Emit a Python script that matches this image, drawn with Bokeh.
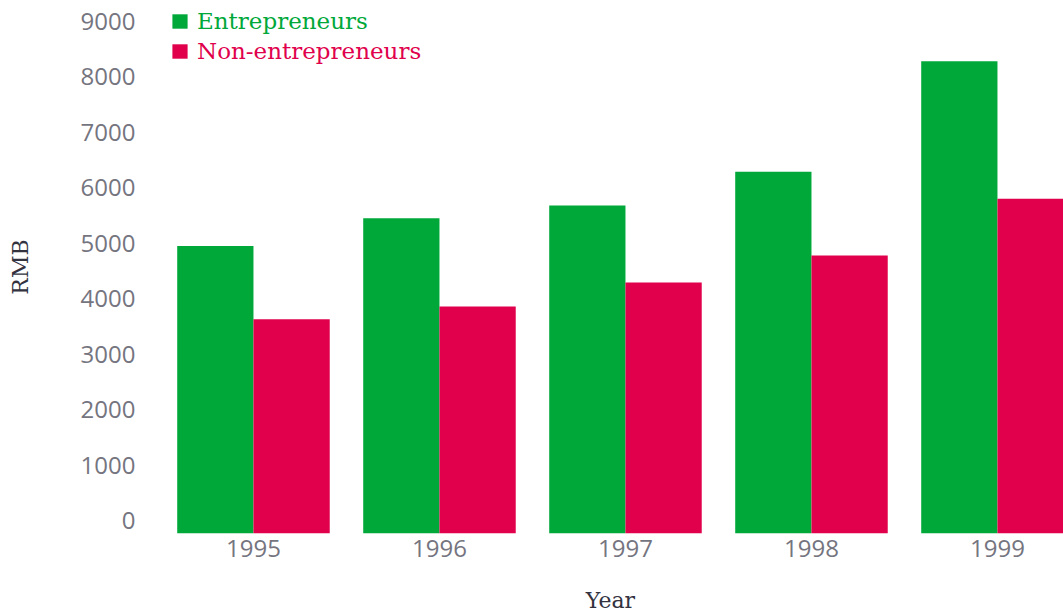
from bokeh.plotting import figure
from bokeh.models import Range1d, Legend, LegendItem, FixedTicker, ColumnDataSource
from bokeh.transform import dodge
from bokeh.embed import file_html
from bokeh.resources import INLINE

# ---- data ----
years = [1995, 1996, 1997, 1998, 1999]
entrepreneurs = [4950, 5450, 5680, 6290, 8280]
non_entrepreneurs = [3630, 3860, 4290, 4780, 5800]
y_ticks = [0, 1000, 2000, 3000, 4000, 5000, 6000, 7000, 8000, 9000]
series_names = ["Entrepreneurs", "Non-entrepreneurs"]

# ---- style ----
GREEN = "#00a83a"
RED = "#e0004b"
BAR_W = 0.41
Y_START = -234
Y_END = 9377

p = figure(width=1063, height=615, output_backend="svg", toolbar_location=None,
           x_range=Range1d(1994.484, 1999.355), y_range=Range1d(Y_START, Y_END),
           min_border_left=157, min_border_right=0, min_border_top=0,
           min_border_bottom=80)
p.outline_line_color = None
p.grid.visible = False
p.background_fill_color = "white"

src = ColumnDataSource(dict(x=years, ent=entrepreneurs, non=non_entrepreneurs))
r1 = p.vbar(x=dodge("x", -BAR_W / 2, range=p.x_range), top="ent", bottom=Y_START,
            width=BAR_W, source=src, fill_color=GREEN, line_color=None)
r2 = p.vbar(x=dodge("x", BAR_W / 2, range=p.x_range), top="non", bottom=Y_START,
            width=BAR_W, source=src, fill_color=RED, line_color=None)

TICK_FONT = "Open Sans"
TICK_COLOR = "#75757f"
LABEL_FONT = "DejaVu Serif"
LABEL_COLOR = "#33333f"

for ax in (p.xaxis[0], p.yaxis[0]):
    ax.axis_line_color = None
    ax.major_tick_line_color = None
    ax.minor_tick_line_color = None
    ax.major_tick_in = 0
    ax.major_tick_out = 0
    ax.major_label_text_font = TICK_FONT
    ax.major_label_text_font_size = "24px"
    ax.major_label_text_color = TICK_COLOR
    ax.axis_label_text_font = LABEL_FONT
    ax.axis_label_text_font_size = "22px"
    ax.axis_label_text_font_style = "normal"
    ax.axis_label_text_color = LABEL_COLOR

p.xaxis.ticker = FixedTicker(ticks=years)
p.xaxis.major_label_standoff = 6
p.xaxis.axis_label = "Year"
p.xaxis.axis_label_standoff = 28

p.yaxis.ticker = FixedTicker(ticks=y_ticks)
p.yaxis.major_label_standoff = 22
p.yaxis.axis_label = "RMB"
p.yaxis.axis_label_standoff = 45

def make_legend(name, renderer, color, loc):
    leg = Legend(items=[LegendItem(label=name, renderers=[renderer])],
                 location=loc, orientation="vertical",
                 glyph_width=19, glyph_height=18, label_height=18,
                 label_standoff=8, padding=0, spacing=0, margin=0,
                 border_line_color=None, background_fill_alpha=0,
                 label_text_font=LABEL_FONT, label_text_font_size="23px",
                 label_text_color=color)
    return leg

p.add_layout(make_legend(series_names[0], r1, GREEN, (13, 499)), "center")
p.add_layout(make_legend(series_names[1], r2, RED, (13, 469)), "center")

open("out.html", "w").write(file_html(p, INLINE))
